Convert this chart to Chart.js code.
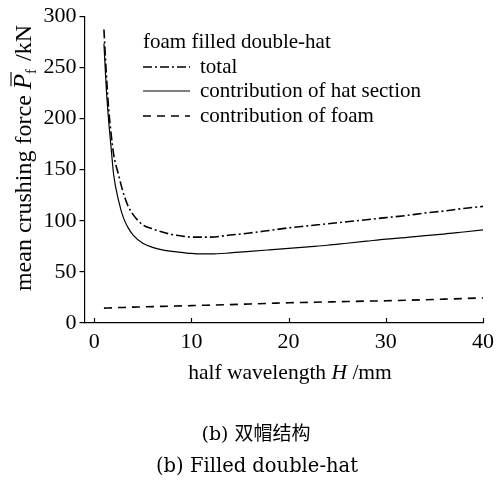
<!DOCTYPE html>
<html>
<head>
<meta charset="utf-8">
<script src="https://cdn.jsdelivr.net/npm/chart.js@4"></script>
<style>
  html, body { margin: 0; padding: 0; background: #fff; }
  #wrap { width: 500px; height: 488px; }
</style>
</head>
<body>
<div id="wrap"><canvas id="chart" width="500" height="488"></canvas></div>
<script>
// half wavelength H (mm)
const halfWavelength = [1, 1.25, 1.5, 1.75, 2, 2.5, 3, 3.5, 4, 5, 6, 7, 8, 9, 10, 11, 12, 14, 16, 18, 20, 22, 24, 26, 28, 30, 32, 34, 36, 38, 40];
// mean crushing force (kN)
const totalForce = [287, 243, 208, 184, 165, 145, 127, 114, 106, 96, 92, 89, 86.5, 85, 84, 84, 84, 86, 88, 90.5, 93, 95, 97, 99, 101, 103, 105, 107.5, 109.5, 112, 114];
const hatForce   = [273, 228, 196, 170, 145, 120, 103, 93, 86, 78, 74, 71.5, 70, 69, 68, 67.5, 67.5, 68.5, 70, 71.5, 73, 74.5, 76, 78, 80, 82, 83.5, 85.5, 87, 89, 91];
const foamForce  = [14.5, 14.6, 14.7, 14.8, 14.9, 15.1, 15.2, 15.4, 15.5, 15.8, 16, 16.3, 16.5, 16.7, 17, 17.3, 17.5, 18, 18.6, 19.2, 19.8, 20.2, 20.6, 21, 21.4, 21.7, 22.2, 22.7, 23.3, 23.9, 24.5];
const xTicks = [0, 10, 20, 30, 40];
const yTicks = [0, 50, 100, 150, 200, 250, 300];

const legendTitle = 'foam filled double-hat';
const seriesLabels = ['total', 'contribution of hat section', 'contribution of foam'];

const SERIF = '"Liberation Serif", "Times New Roman", serif';

function toPoints(ys) {
    return halfWavelength.map((x, i) => ({ x: x, y: ys[i] }));
}

const dashStyles = [[9, 3, 2, 3], [], [8, 6]];
const widths = [1.6, 1.2, 1.6];

// inward x ticks, legend, axis titles, captions
const decorations = {
    id: 'decorations',
    afterDraw(chart) {
        const ctx = chart.ctx;
        const xs = chart.scales.x;
        const area = chart.chartArea;
        ctx.save();
        ctx.strokeStyle = '#000';
        ctx.fillStyle = '#000';
        ctx.lineWidth = 1.2;

        // x ticks pointing up into the plot
        xTicks.forEach(v => {
            const px = Math.round(xs.getPixelForValue(v)) + 0.5;
            ctx.beginPath();
            ctx.moveTo(px, area.bottom);
            ctx.lineTo(px, area.bottom - 5);
            ctx.stroke();
        });

        // legend
        ctx.font = '21px ' + SERIF;
        ctx.textBaseline = 'middle';
        ctx.textAlign = 'left';
        ctx.fillText(legendTitle, 143, 42);
        const rowsY = [67, 91, 116];
        seriesLabels.forEach((label, i) => {
            ctx.setLineDash(dashStyles[i]);
            ctx.lineWidth = widths[i];
            ctx.beginPath();
            ctx.moveTo(143, rowsY[i]);
            ctx.lineTo(190, rowsY[i]);
            ctx.stroke();
            ctx.setLineDash([]);
            ctx.fillText(label, 200, rowsY[i]);
        });

        // x title: half wavelength H /mm
        ctx.textBaseline = 'alphabetic';
        const xParts = [['half wavelength ', '21.5px ' + SERIF], ['H', 'italic 21.5px ' + SERIF], [' /mm', '21.5px ' + SERIF]];
        let total = 0;
        xParts.forEach(p => { ctx.font = p[1]; total += ctx.measureText(p[0]).width; });
        let cx = 290 - total / 2;
        xParts.forEach(p => { ctx.font = p[1]; ctx.fillText(p[0], cx, 379); cx += ctx.measureText(p[0]).width; });

        // y title: mean crushing force P_f /kN (rotated)
        ctx.save();
        ctx.translate(31, 158);
        ctx.rotate(-Math.PI / 2);
        const a = 'mean crushing force ';
        const b = ' /kN';
        const fs = 24;
        ctx.font = fs + 'px ' + SERIF;
        const wa = ctx.measureText(a).width;
        const wb = ctx.measureText(b).width;
        ctx.font = 'italic ' + (fs + 1) + 'px ' + SERIF;
        const wp = ctx.measureText('P').width;
        ctx.font = '15px ' + SERIF;
        const wf = ctx.measureText('f').width;
        const w = wa + wp + wf + 2 + wb;
        let yx = -w / 2;
        ctx.font = fs + 'px ' + SERIF;
        ctx.fillText(a, yx, 0);
        yx += wa;
        ctx.font = 'italic ' + (fs + 1) + 'px ' + SERIF;
        ctx.fillText('P', yx, 0);
        ctx.lineWidth = 1.1;
        ctx.beginPath();
        ctx.moveTo(yx + 3, -20);
        ctx.lineTo(yx + wp + 2, -20);
        ctx.stroke();
        yx += wp;
        ctx.font = '15px ' + SERIF;
        ctx.fillText('f', yx, 5);
        yx += wf + 2;
        ctx.font = fs + 'px ' + SERIF;
        ctx.fillText(b, yx, 0);
        ctx.restore();

        // captions
        ctx.textAlign = 'center';
        ctx.font = '19px "DejaVu Serif", "Noto Sans CJK SC", serif';
        ctx.fillText('(b) 双帽结构', 256, 440);
        ctx.font = '19.5px "DejaVu Serif", serif';
        ctx.fillText('(b) Filled double-hat', 257, 472);
        ctx.restore();
    }
};

const seriesData = [totalForce, hatForce, foamForce];

new Chart(document.getElementById('chart'), {
    type: 'line',
    data: {
        datasets: seriesData.map((ys, i) => ({
            label: seriesLabels[i],
            data: toPoints(ys),
            borderColor: '#000',
            borderWidth: widths[i],
            borderDash: dashStyles[i],
            pointRadius: 0,
            cubicInterpolationMode: 'monotone',
            fill: false,
        }))
    },
    options: {
        responsive: false,
        animation: false,
        layout: { padding: { left: 0, top: 15, right: 13, bottom: 135 } },
        plugins: {
            legend: { display: false },
            tooltip: { enabled: false },
        },
        scales: {
            x: {
                type: 'linear',
                min: -1,
                max: 40,
                afterBuildTicks: (scale) => { scale.ticks = xTicks.map(v => ({ value: v })); },
                afterFit: (scale) => { scale.height = 30; },
                border: { display: true, color: '#000', width: 1.2 },
                grid: { display: false, drawTicks: false },
                ticks: {
                    color: '#000',
                    padding: 6,
                    font: { family: SERIF, size: 22 },
                    maxRotation: 0,
                },
            },
            y: {
                type: 'linear',
                min: 0,
                max: 300,
                afterBuildTicks: (scale) => { scale.ticks = yTicks.map(v => ({ value: v })); },
                afterFit: (scale) => { scale.width = 84.5; },
                border: { display: true, color: '#000', width: 1.2 },
                grid: { drawOnChartArea: false, drawTicks: true, tickLength: 5, color: '#000', lineWidth: 1.2 },
                ticks: {
                    color: '#000',
                    padding: 3,
                    font: { family: SERIF, size: 22 },
                },
            },
        },
    },
    plugins: [decorations],
});
</script>
</body>
</html>
